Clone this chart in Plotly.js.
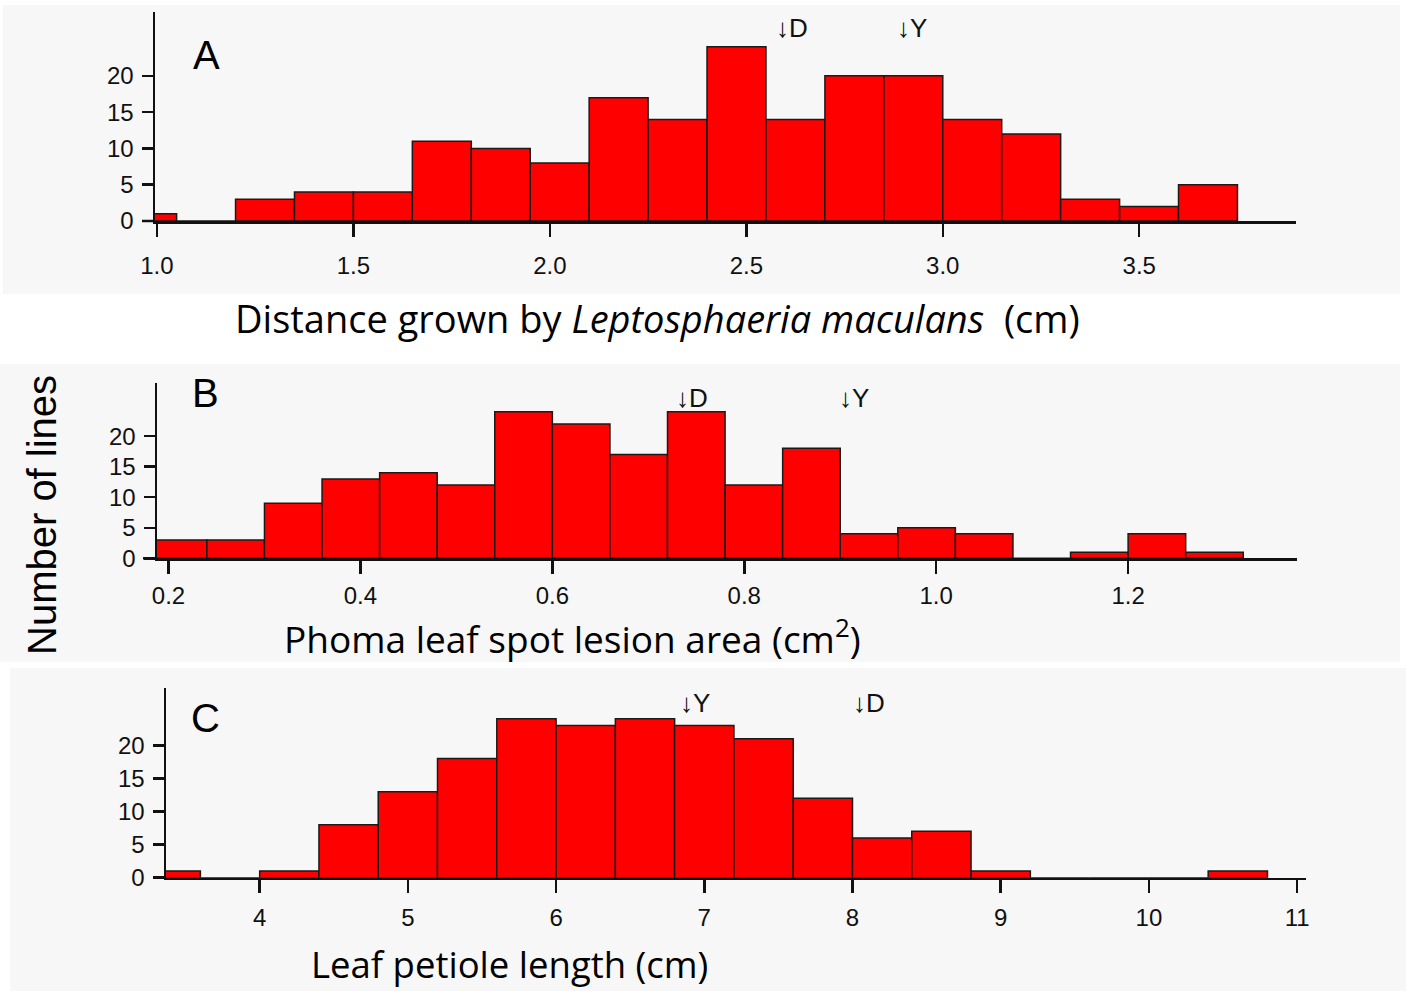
<!DOCTYPE html>
<html>
<head>
<meta charset="utf-8">
<script src="https://cdn.plot.ly/plotly-3.0.1.min.js"></script>
<style>html,body{margin:0;padding:0;background:#fff;}#chart{width:1406px;height:991px;}</style>
</head>
<body>
<div id="chart"></div>
<script>
// ---------- DATA ----------
// Panel A: distance grown by Leptosphaeria maculans (cm), bin width 0.15
const aBinLeft = [0.90,1.05,1.20,1.35,1.50,1.65,1.80,1.95,2.10,2.25,2.40,2.55,2.70,2.85,3.00,3.15,3.30,3.45,3.60];
const aCounts  = [1,0,3,4,4,11,10,8,17,14,24,14,20,20,14,12,3,2,5];
const aBinWidth = 0.15;
const aTickVals = [1.0,1.5,2.0,2.5,3.0,3.5];
const aTickText = ["1.0","1.5","2.0","2.5","3.0","3.5"];
const aMarkers = [["↓D",2.589],["↓Y",2.896]];

// Panel B: Phoma leaf spot lesion area (cm2), bin width 0.06
const bBinLeft = [0.18,0.24,0.30,0.36,0.42,0.48,0.54,0.60,0.66,0.72,0.78,0.84,0.90,0.96,1.02,1.08,1.14,1.20,1.26];
const bCounts  = [3,3,9,13,14,12,24,22,17,24,12,18,4,5,4,0,1,4,1];
const bBinWidth = 0.06;
const bTickVals = [0.2,0.4,0.6,0.8,1.0,1.2];
const bTickText = ["0.2","0.4","0.6","0.8","1.0","1.2"];
const bMarkers = [["↓D",0.734],["↓Y",0.904]];

// Panel C: leaf petiole length (cm), bin width 0.4
const cBinLeft = [3.2,3.6,4.0,4.4,4.8,5.2,5.6,6.0,6.4,6.8,7.2,7.6,8.0,8.4,8.8,9.2,9.6,10.0,10.4];
const cCounts  = [1,0,1,8,13,18,24,23,24,23,21,12,6,7,1,0,0,0,1];
const cBinWidth = 0.4;
const cTickVals = [4,5,6,7,8,9,10,11];
const cTickText = ["4","5","6","7","8","9","10","11"];
const cMarkers = [["↓Y",6.872],["↓D",8.04]];

const yTickVals = [0,5,10,15,20];
const yTickText = ["0","5","10","15","20"];

const panelLetters = ["A","B","C"];
const xTitles = [
  "Distance grown by <i>Leptosphaeria maculans</i>  (cm)",
  "Phoma leaf spot lesion area (cm<sup>2</sup>)",
  "Leaf petiole length (cm)"
];
const yTitle = "Number of lines";

// ---------- LAYOUT HELPERS ----------
const W = 1406, H = 991;
const px = x => x / W;
const py = y => 1 - y / H;

const panels = [
  {bins:aBinLeft, counts:aCounts, w:aBinWidth, tv:aTickVals, tt:aTickText, mk:aMarkers,
   xd:[155,1296], yd:[12,221], xr:[0.995,3.899], yr:[0,28.8], ext:142, mkY:26.6, stand:9,
   letter:[206,55], title:[234,318], tsize:38, bg:[3,5,1400,294]},
  {bins:bBinLeft, counts:bCounts, w:bBinWidth, tv:bTickVals, tt:bTickText, mk:bMarkers,
   xd:[157,1297], yd:[383,558.3], xr:[0.188,1.376], yr:[0,28.7], ext:143, mkY:26.3, stand:1,
   letter:[205,393], title:[283,636], tsize:37, bg:[0,364,1400,662]},
  {bins:cBinLeft, counts:cCounts, w:cBinWidth, tv:cTickVals, tt:cTickText, mk:cMarkers,
   xd:[166,1306], yd:[688,877.7], xr:[3.368,11.06], yr:[0,28.66], ext:153, mkY:26.4, stand:4,
   letter:[205,718], title:[310,964], tsize:36.5, bg:[10,668,1406,991]}
];

const tickFont = {family:"Liberation Sans, Arial, sans-serif", size:24, color:"#111"};

const traces = [];
const layout = {
  width: W, height: H,
  margin: {l:0, r:0, t:0, b:0},
  paper_bgcolor: "#ffffff",
  plot_bgcolor: "rgba(0,0,0,0)",
  showlegend: false,
  bargap: 0,
  shapes: [], annotations: []
};

panels.forEach((p, i) => {
  const n = i === 0 ? "" : String(i + 1);
  traces.push({
    type: "bar",
    x: p.bins, y: p.counts,
    width: p.bins.map(() => p.w),
    offset: 0,
    xaxis: "x" + n, yaxis: "y" + n,
    marker: {color: "#ff0000", line: {color: "#1a1a1a", width: 1.5}},
    hoverinfo: "x+y"
  });
  layout["xaxis" + n] = {
    domain: [px(p.xd[0]), px(p.xd[1])],
    range: p.xr, anchor: "y" + n,
    showline: true, linecolor: "#111", linewidth: 2.5,
    ticks: "outside", ticklen: 13, tickwidth: 2.5, tickcolor: "#111",
    tickvals: p.tv, ticktext: p.tt,
    ticklabelstandoff: p.stand,
    tickfont: tickFont,
    showgrid: false, zeroline: false, fixedrange: true
  };
  layout["yaxis" + n] = {
    domain: [py(p.yd[1]), py(p.yd[0])],
    range: p.yr, anchor: "x" + n,
    showline: true, linecolor: "#111", linewidth: 2.5,
    ticks: "outside", ticklen: 11, tickwidth: 2.5, tickcolor: "#111",
    tickvals: yTickVals, ticktext: yTickText,
    ticklabelstandoff: 3,
    tickfont: tickFont,
    showgrid: false, zeroline: false, fixedrange: true
  };
  // panel background
  layout.shapes.push({type:"rect", xref:"paper", yref:"paper", layer:"below",
    x0:px(p.bg[0]), x1:px(p.bg[2]), y0:py(p.bg[3]), y1:py(p.bg[1]),
    fillcolor:"#f7f7f7", line:{width:0}});
  // x-axis line extension left of the y axis
  layout.shapes.push({type:"line", xref:"paper", yref:"paper",
    x0:px(p.ext), x1:px(p.xd[0]), y0:py(p.yd[1]), y1:py(p.yd[1]),
    line:{color:"#111", width:2.5}});
  // panel letter
  layout.annotations.push({xref:"paper", yref:"paper", x:px(p.letter[0]), y:py(p.letter[1]),
    xanchor:"center", yanchor:"middle", showarrow:false, text:panelLetters[i],
    font:{family:"Liberation Sans, Arial, sans-serif", size:40, color:"#000"}});
  // x title
  layout.annotations.push({xref:"paper", yref:"paper", x:px(p.title[0]), y:py(p.title[1]),
    xanchor:"left", yanchor:"middle", showarrow:false, text:xTitles[i], borderpad:0,
    font:{family:"'Open Sans', Lato, sans-serif", size:p.tsize, color:"#000"}});
  // D / Y markers
  p.mk.forEach(m => {
    layout.annotations.push({xref:"x" + n, yref:"y" + n, x:m[1], y:p.mkY,
      xanchor:"left", yanchor:"middle", xshift:-7, showarrow:false, text:m[0],
      font:{family:"Liberation Sans, Arial, sans-serif", size:26, color:"#111"}});
  });
});

// y title
layout.annotations.push({xref:"paper", yref:"paper", x:px(42), y:py(515),
  xanchor:"center", yanchor:"middle", textangle:-90, showarrow:false, text:yTitle,
  font:{family:"Liberation Sans, Arial, sans-serif", size:40, color:"#000"}});

Plotly.newPlot("chart", traces, layout, {staticPlot:true});
</script>
</body>
</html>
